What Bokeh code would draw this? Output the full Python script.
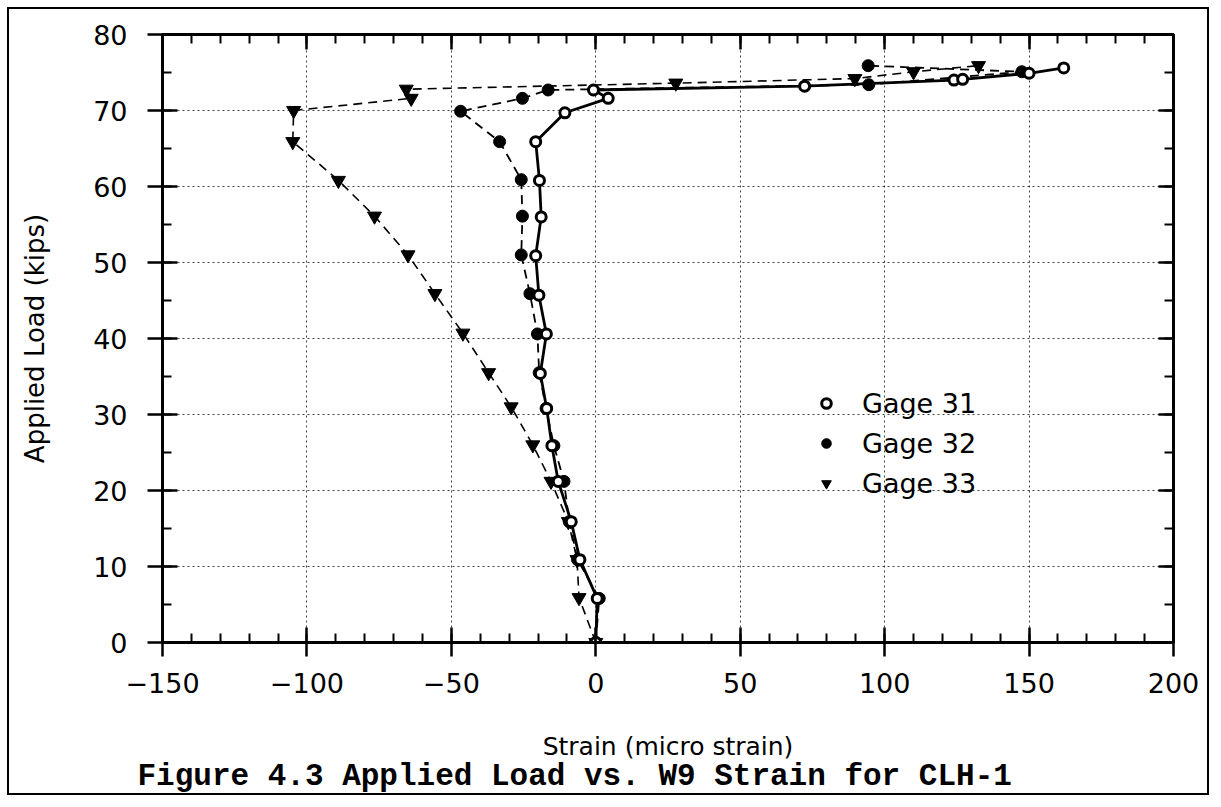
from bokeh.plotting import figure
from bokeh.models import (SingleIntervalTicker, LinearAxis, Legend, LegendItem,
                          Title, Range1d, ColumnDataSource)
from bokeh.embed import file_html
from bokeh.resources import INLINE

# ---------------- data ----------------
x_ticks = [-150, -100, -50, 0, 50, 100, 150, 200]
x_tick_labels = ["\u2212150", "\u2212100", "\u221250", "0", "50", "100", "150", "200"]
y_ticks = [0, 10, 20, 30, 40, 50, 60, 70, 80]
y_tick_labels = ["0", "10", "20", "30", "40", "50", "60", "70", "80"]

series_names = ["Gage 31", "Gage 32", "Gage 33"]

g31_strain = [0, 0.5, -5.5, -8.5, -13.0, -15.2, -17.0, -19.2, -17.1, -19.7, -20.8,
              -18.9, -19.5, -20.8, -10.7, 4.3, -0.8, 72.3, 124.0, 127.0, 150.0, 162.0]
g31_load = [0, 5.8, 10.9, 15.9, 21.2, 25.9, 30.8, 35.4, 40.6, 45.7, 50.9,
            56.0, 60.8, 65.9, 69.7, 71.6, 72.7, 73.2, 74.0, 74.1, 74.9, 75.6]

g32_strain = [0, 1.2, -6.3, -9.2, -11.0, -14.5, -17.2, -19.6, -20.2, -22.8, -25.8,
              -25.4, -25.8, -33.3, -46.8, -25.4, -16.5, 94.5, 147.5, 94.3]
g32_load = [0, 5.8, 10.9, 15.9, 21.2, 25.9, 30.8, 35.5, 40.6, 45.9, 51.0,
            56.1, 60.9, 65.9, 69.9, 71.6, 72.7, 73.4, 75.1, 75.9]

g33_strain = [0, -5.8, -6.5, -9.5, -15.5, -21.8, -29.3, -37.1, -46.0, -55.7, -65.0,
              -76.6, -89.1, -104.9, -104.6, -63.9, -65.6, 27.7, 89.7, 110.0, 132.5]
g33_load = [0, 5.9, 10.9, 15.9, 21.2, 26.0, 31.0, 35.5, 40.7, 45.9, 51.0,
            56.1, 60.8, 65.9, 70.0, 71.6, 72.8, 73.6, 74.2, 75.1, 75.9]

x_title = "Strain (micro strain)"
y_title = "Applied Load (kips)"
caption = "Figure 4.3 Applied Load vs. W9 Strain for CLH-1"

# ---------------- figure ----------------
FONT = "DejaVu Sans"

p = figure(width=1202, height=788,
           x_range=Range1d(-150, 200), y_range=Range1d(0, 80),
           output_backend="svg", toolbar_location=None,
           min_border_left=153, min_border_right=38,
           min_border_top=25, min_border_bottom=155,
           background_fill_color="white", border_fill_color="white")
p.styles = {"border": "2px solid black", "margin-left": "7px", "margin-top": "7px"}
p.outline_line_color = "black"
p.outline_line_width = 3

xt = SingleIntervalTicker(interval=50, num_minor_ticks=5)
yt = SingleIntervalTicker(interval=10, num_minor_ticks=2)

xover = dict(zip(x_ticks, x_tick_labels))
yover = dict(zip(y_ticks, y_tick_labels))


def style_axis(ax, ticker, tick_out, show_labels):
    ax.ticker = ticker
    ax.axis_line_color = "black"
    ax.axis_line_width = 3
    ax.major_tick_line_color = "black"
    ax.major_tick_line_width = 2.5
    ax.minor_tick_line_color = "black"
    ax.minor_tick_line_width = 2
    ax.major_tick_in = 15
    ax.major_tick_out = tick_out
    ax.minor_tick_in = 9
    ax.minor_tick_out = 0
    if show_labels:
        ax.major_label_text_font = FONT
        ax.major_label_text_font_size = "27px"
        ax.major_label_text_color = "black"
        ax.axis_label_text_font = FONT
        ax.axis_label_text_font_style = "normal"
        ax.axis_label_text_color = "black"
    else:
        ax.major_label_text_font_size = "1px"
        ax.major_label_text_color = None
        ax.major_label_standoff = 0


style_axis(p.xaxis[0], xt, 14, True)
p.xaxis[0].major_label_overrides = xover
p.xaxis[0].major_label_standoff = 16
p.xaxis[0].axis_label = x_title
p.xaxis[0].axis_label_text_font_size = "25px"
p.xaxis[0].axis_label_standoff = 36

style_axis(p.yaxis[0], yt, 15, True)
p.yaxis[0].major_label_overrides = yover
p.yaxis[0].major_label_standoff = 20
p.yaxis[0].axis_label = y_title
p.yaxis[0].axis_label_text_font_size = "26px"
p.yaxis[0].axis_label_standoff = 40

top_ax = LinearAxis()
style_axis(top_ax, xt, 0, False)
p.add_layout(top_ax, "above")
right_ax = LinearAxis()
style_axis(right_ax, yt, 0, False)
p.add_layout(right_ax, "right")

for g in (p.xgrid[0], p.ygrid[0]):
    g.grid_line_color = "black"
    g.grid_line_width = 1
    g.grid_line_dash = "2 3"
    g.grid_line_alpha = 0.75
p.xgrid[0].ticker = xt
p.ygrid[0].ticker = yt

src31 = ColumnDataSource(dict(x=g31_strain, y=g31_load))
src32 = ColumnDataSource(dict(x=g32_strain, y=g32_load))
src33 = ColumnDataSource(dict(x=g33_strain, y=g33_load))

p.line("x", "y", source=src33, line_color="black", line_width=1.6, line_dash="9 6")
p.line("x", "y", source=src32, line_color="black", line_width=1.8, line_dash="9 6")
p.line("x", "y", source=src31, line_color="black", line_width=2.8)

s33 = p.scatter("x", "y", source=src33, marker="inverted_triangle", size=14,
                fill_color="black", line_color="black", line_width=1)
s32 = p.scatter("x", "y", source=src32, marker="circle", size=12,
                fill_color="black", line_color="black", line_width=1)
s31 = p.scatter("x", "y", source=src31, marker="circle", size=10,
                fill_color="white", line_color="black", line_width=3)

legend = Legend(items=[LegendItem(label=series_names[0], renderers=[s31]),
                       LegendItem(label=series_names[1], renderers=[s32]),
                       LegendItem(label=series_names[2], renderers=[s33])],
                location=(652, 141), orientation="vertical",
                glyph_width=24, glyph_height=36, label_height=36,
                label_standoff=24, spacing=4, padding=0, margin=0,
                border_line_color=None, background_fill_alpha=0,
                label_text_font=FONT, label_text_font_size="27px",
                label_text_color="black")
p.add_layout(legend)

cap = Title(text=caption, align="left", offset=-25, standoff=-14,
            text_font="Liberation Mono", text_font_size="31px",
            text_font_style="bold", text_color="black")
p.add_layout(cap, "below")

open("out.html", "w").write(file_html(p, INLINE))
